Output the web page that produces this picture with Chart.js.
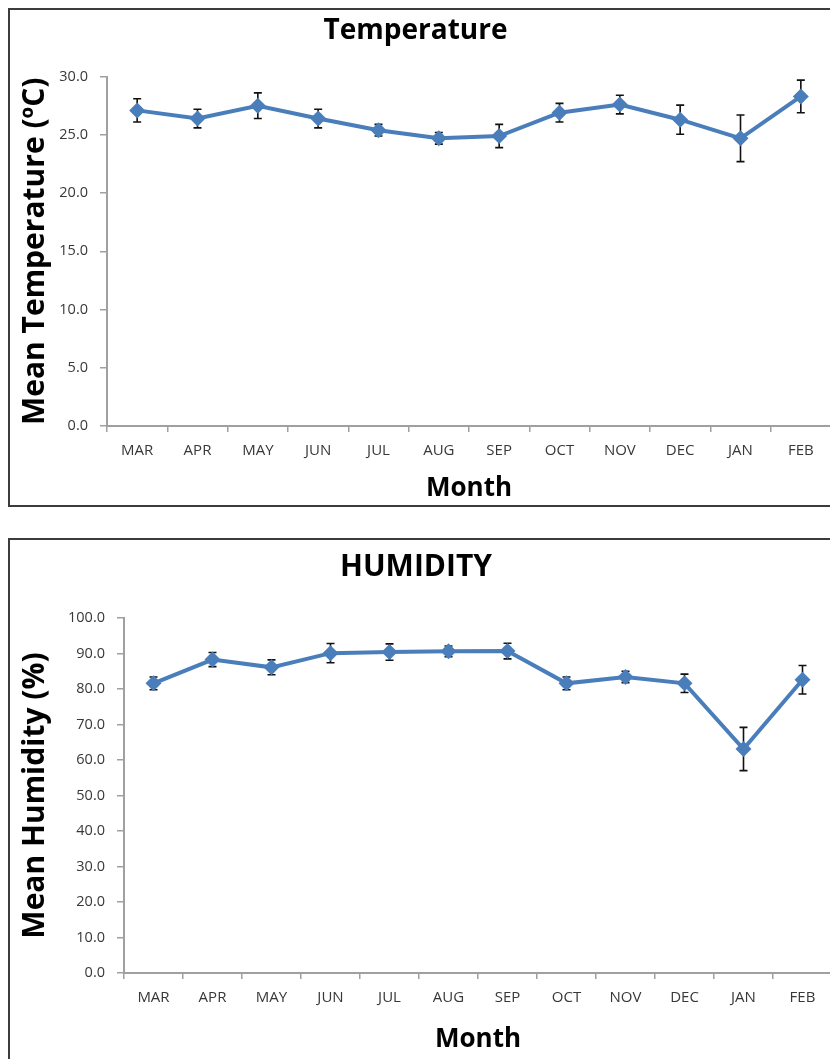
<!DOCTYPE html>
<html lang="en">
<head>
    <meta charset="UTF-8">
    <title>Temperature and Humidity</title>
    <script src="https://cdn.jsdelivr.net/npm/chart.js"></script>
    <style>
        body { margin: 0; width: 830px; height: 1059px; overflow: hidden; background: #fff; font-family: "Open Sans", sans-serif; }
        .box { position: absolute; left: 8px; width: 840px; border: 2px solid #3c3c3c; }
        .wrap { position: absolute; left: 0; width: 840px; }
    </style>
</head>
<body>
    <div class="box" style="top:8px; height:495px;"></div>
    <div class="box" style="top:538px; height:540px;"></div>

    <div class="wrap" style="top:0; height:510px;"><canvas id="tempChart"></canvas></div>
    <div class="wrap" style="top:530px; height:529px;"><canvas id="humChart"></canvas></div>

    <script>
        // dane
        const months = ['MAR', 'APR', 'MAY', 'JUN', 'JUL', 'AUG', 'SEP', 'OCT', 'NOV', 'DEC', 'JAN', 'FEB'];

        const tempMean = [27.1, 26.4, 27.5, 26.4, 25.4, 24.7, 24.9, 26.9, 27.6, 26.3, 24.7, 28.3];
        const tempErr  = [1.0, 0.8, 1.1, 0.8, 0.5, 0.5, 1.0, 0.8, 0.8, 1.25, 2.0, 1.4];

        const humMean = [81.6, 88.3, 86.1, 90.1, 90.4, 90.6, 90.7, 81.6, 83.4, 81.6, 63.1, 82.6];
        const humErr  = [1.8, 2.0, 2.1, 2.7, 2.3, 1.5, 2.2, 1.8, 1.6, 2.6, 6.1, 4.0];

        const blue = 'rgb(74, 126, 187)';

        // slupki bledow rysowane przez skale wykresu
        const errorBars = {
            id: 'errorBars',
            beforeDatasetsDraw(chart, args, opts) {
                const ctx = chart.ctx;
                const x = chart.scales.x, y = chart.scales.y;
                const errs = opts.errors || [];
                const vals = chart.data.datasets[0].data;
                ctx.save();
                ctx.strokeStyle = '#111';
                ctx.lineWidth = 1.6;
                vals.forEach((v, i) => {
                    const px = x.getPixelForValue(i);
                    const top = y.getPixelForValue(v + errs[i]);
                    const bot = y.getPixelForValue(v - errs[i]);
                    ctx.beginPath();
                    ctx.moveTo(px, top); ctx.lineTo(px, bot);
                    ctx.moveTo(px - 4, top); ctx.lineTo(px + 4, top);
                    ctx.moveTo(px - 4, bot); ctx.lineTo(px + 4, bot);
                    ctx.stroke();
                });
                ctx.restore();
            }
        };

        function makeChart(id, cfg) {
            return new Chart(document.getElementById(id), {
                type: 'line',
                data: {
                    labels: months,
                    datasets: [{
                        data: cfg.values,
                        borderColor: blue,
                        backgroundColor: blue,
                        borderWidth: 4,
                        pointStyle: 'rectRot',
                        pointRadius: 8,
                        pointHoverRadius: 8,
                        pointBorderWidth: 0,
                        tension: 0,
                        fill: false
                    }]
                },
                options: {
                    responsive: true,
                    maintainAspectRatio: false,
                    animation: false,
                    events: [],
                    layout: { padding: { left: 0, right: cfg.padRight, top: 0, bottom: 0 } },
                    plugins: {
                        legend: { display: false },
                        tooltip: { enabled: false },
                        title: {
                            display: true,
                            text: cfg.title,
                            color: '#000',
                            font: { family: 'Open Sans', size: cfg.titleSize, weight: 'bold', lineHeight: 1.2 },
                            padding: cfg.titlePad
                        },
                        errorBars: { errors: cfg.errors }
                    },
                    scales: {
                        x: {
                            offset: true,
                            grid: { offset: true, drawOnChartArea: false, drawTicks: true, tickLength: 6, color: '#a0a0a0', lineWidth: 1.5 },
                            border: { display: true, color: '#a0a0a0', width: 2 },
                            ticks: { color: '#383838', padding: 10, maxRotation: 0, font: { family: 'Open Sans', size: 15 } },
                            title: {
                                display: true,
                                text: 'Month',
                                color: '#000',
                                font: { family: 'Open Sans', size: 26, weight: 'bold', lineHeight: 1.2 },
                                padding: { top: 0, bottom: cfg.monthPad }
                            },
                            afterFit(scale) { scale.height = cfg.xHeight; }
                        },
                        y: {
                            min: cfg.min,
                            max: cfg.max,
                            grid: { drawOnChartArea: false, drawTicks: true, tickLength: 7, color: '#a0a0a0', lineWidth: 1.5 },
                            border: { display: true, color: '#a0a0a0', width: 2 },
                            ticks: {
                                stepSize: cfg.step,
                                color: '#383838',
                                padding: 12,
                                font: { family: 'Open Sans', size: 14.5 },
                                callback: v => v.toFixed(1)
                            },
                            title: {
                                display: true,
                                text: cfg.yTitle,
                                color: '#000',
                                font: { family: 'Open Sans', size: 30, weight: 'bold', lineHeight: 1.2 },
                                padding: { top: 17, bottom: 0 }
                            },
                            afterFit(scale) { scale.width = cfg.yWidth; }
                        }
                    }
                },
                plugins: [errorBars]
            });
        }

        makeChart('tempChart', {
            title: 'Temperature',
            titleSize: 28,
            yTitle: 'Mean Temperature (ºC)',
            values: tempMean,
            errors: tempErr,
            min: 0, max: 30, step: 5,
            titlePad: { top: 14, bottom: 29 },
            padRight: 9,
            xHeight: 84,
            monthPad: 6,
            yWidth: 107
        });

        makeChart('humChart', {
            title: 'HUMIDITY',
            titleSize: 30,
            yTitle: 'Mean Humidity (%)',
            values: humMean,
            errors: humErr,
            min: 0, max: 100, step: 10,
            titlePad: { top: 19, bottom: 33 },
            padRight: 8,
            xHeight: 86,
            monthPad: 4,
            yWidth: 124
        });
    </script>
</body>
</html>
